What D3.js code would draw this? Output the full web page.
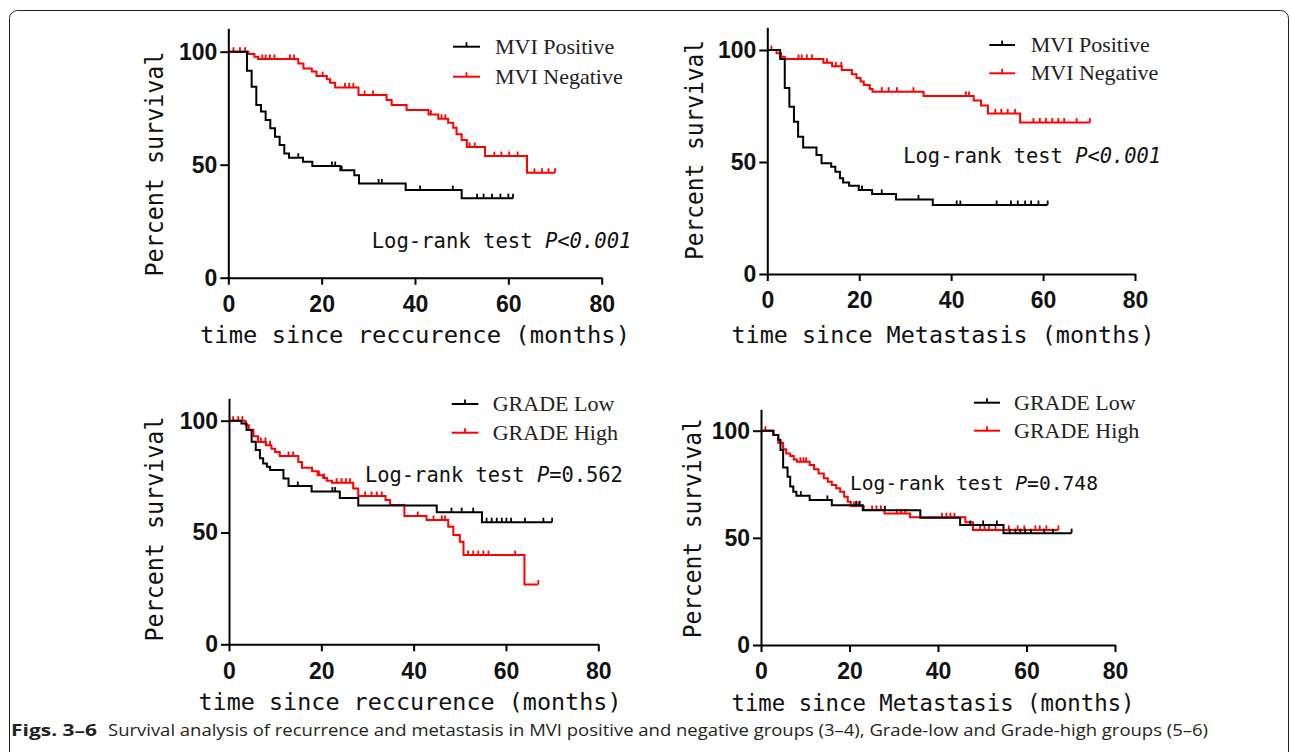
<!DOCTYPE html>
<html>
<head>
<meta charset="utf-8">
<script src="https://cdn.jsdelivr.net/npm/d3@7"></script>
<style>
  body { margin: 0; background: #fff; }
  svg { display: block; }
</style>
</head>
<body>
<svg id="fig" width="1290" height="752"></svg>
<script>
// ── Data ──────────────────────────────────────────────────────────────────

var xTicks = [0, 20, 40, 60, 80];
var yTicks = [0, 50, 100];

var mviLabels   = ['MVI Positive', 'MVI Negative'];
var gradeLabels = ['GRADE Low', 'GRADE High'];
var xTitleRec = 'time since reccurence (months)';
var xTitleMet = 'time since Metastasis (months)';
var yTitle = 'Percent survival';
var logRankText = 'Log-rank test ';
var pItalic = ['P<0.001', 'P<0.001', 'P', 'P'];
var pPlain  = ['', '', '=0.562', '=0.748'];

// Fig 3: recurrence, MVI positive / negative  [months, % survival]
var recPosSteps = [[0,100],[4,91.6],[5,84.5],[6,76.4],[7,73.5],[8,69.8],[9,66.1],[10,62.4],[11,58.7],[12,55],[13,53.1],[16,51.3],[18,49.4],[24,47.5],[27,45.3],[28,41.7],[38,38.8],[50,35.2],[61,35.2]];
var recPosCensor = [15, 22.2, 22.9, 24.3, 32.2, 32.9, 41.1, 48.1, 53.3, 54.7, 56.5, 58.3, 60, 61];
var recNegSteps = [[0,100],[4.3,99],[5.6,97.8],[6.4,96.8],[15,94.8],[16.1,92.6],[17.9,91.2],[18.9,89.2],[21.1,87.8],[21.8,86.3],[22.9,84.2],[27.9,80.8],[33.9,78.6],[35,76.4],[38.2,74.2],[42.9,72.2],[45,70.3],[47.1,68.6],[48.2,66.3],[48.9,63.5],[50,60.9],[51.1,57.8],[55,53.8],[64,46.4],[70,46.4]];
var recNegCensor = [1.1, 2.5, 3.6, 7.3, 8, 8.9, 9.9, 13.2, 14.1, 20.2, 25, 25.9, 26.8, 29.2, 31, 43.4, 45.7, 46.5, 51.7, 52.8, 57, 58.5, 60.2, 62, 65.6, 67.2, 68.6, 70];

// Fig 4: metastasis, MVI positive / negative
var metPosSteps = [[0,100],[2.8,96],[3.8,83],[4.8,74.7],[5.8,68],[6.7,61.3],[7.8,56.5],[10.7,53.1],[11.8,49.4],[13.9,47.9],[14.8,45.7],[15.8,42.7],[16.5,40.8],[17.8,39.4],[19.9,37.5],[22.8,35.7],[28,33.3],[36,30.8],[61,30.8]];
var metPosCensor = [20.6, 24.9, 32.9, 41.2, 42, 49.9, 53, 54.5, 56.1, 57.4, 59, 61];
var metNegSteps = [[0,100],[2,98.5],[3,97],[3.8,96],[12.2,94.3],[14.1,92.7],[16.2,91.1],[18.4,89.2],[19.4,87.5],[20.3,85.9],[21,84.4],[22.3,82.6],[22.9,81.4],[34,79.5],[44.9,77.5],[46.5,75.2],[48,71.7],[55,67.6],[70.2,67.6]];
var metNegCensor = [0.9, 6.8, 7.5, 8.6, 9.7, 13, 14.9, 16.1, 24.9, 26.4, 28.2, 31.8, 43.2, 43.9, 49.6, 50.9, 52.3, 53.9, 57.9, 59.3, 60.6, 62, 63.3, 64.6, 67.3, 70.2];

// Fig 5: recurrence, grade low / high
var recLowSteps = [[0,100],[2.7,98.8],[3.8,95.8],[4.9,90.6],[5.8,86.9],[6.7,83.2],[7.4,80.9],[8.2,79.4],[8.9,77.9],[11.8,74.2],[12.9,70.8],[17.9,68.3],[24,65.4],[28,62.1],[45,59.1],[54.8,54.6],[70,54.6]];
var recLowCensor = [14.9, 22.4, 23, 48.2, 50.4, 52.9, 55.8, 56.9, 58, 59.1, 60.1, 61.1, 64.1, 68.1, 70];
var recHighSteps = [[0,100],[3.6,98],[4.3,96],[5.3,93],[6.3,90.5],[8,89],[9.2,87.5],[10,86],[11,84.2],[15,81.5],[15.8,79],[18,77.4],[19.2,75.6],[20.4,74.4],[21.2,73.2],[22.3,72.3],[26.9,69.7],[28,66.3],[33.9,64.5],[34.9,62.3],[38,57.4],[42.8,55.6],[47.5,52.6],[48.6,48.9],[50,45.9],[50.8,39.9],[64,26.8],[67,26.8]];
var recHighCensor = [0.9, 2, 2.9, 6.9, 7.9, 8.9, 12.9, 13.9, 19.5, 20.6, 23.3, 24.4, 25.3, 26.2, 29.5, 30.9, 32, 33.1, 40.9, 44.3, 46.1, 46.8, 51.8, 52.9, 54, 55.1, 56.2, 62, 67];

// Fig 6: metastasis, grade low / high
var metLowSteps = [[0,100],[2.8,98],[3.9,95.8],[4.4,91],[5,82.8],[6,78.5],[6.6,74],[7.3,71.5],[8,69.7],[11,67.7],[16,65.2],[23,62.9],[36,59.4],[45,56],[54.8,52.2],[70.2,52.2]];
var metLowCensor = [9, 15, 21.5, 22.3, 28, 47.3, 50.2, 53.3, 56.2, 57.5, 58.6, 59.7, 61, 64, 66, 70.2];
var metHighSteps = [[0,100],[2.8,98],[3.9,94.4],[5,91.3],[5.7,89.4],[6.6,88.2],[7.4,86.6],[8.1,85.5],[11,84],[12,82],[13,80],[14.2,77.8],[15.1,76.2],[16,74.7],[17,73.1],[17.9,71.5],[18.8,69.2],[19.6,66.9],[20.3,64.9],[23.2,63],[27.9,61.4],[33.7,59.6],[46.2,57.3],[47.9,53.7],[67.2,53.7]];
var metHighCensor = [1, 8.9, 9.6, 10.2, 21, 22, 25.1, 26.1, 27.1, 30.7, 31.6, 32.6, 40.9, 41.9, 42.8, 43.7, 49.5, 50.5, 51.5, 53, 56, 58, 59.5, 62, 63, 64.5, 67.2];

var captionBold = 'Figs. 3\u20136';
var captionText = 'Survival analysis of recurrence and metastasis in MVI positive and negative groups (3\u20134), Grade-low and Grade-high groups (5\u20136)';

// ── Layout ────────────────────────────────────────────────────────────────

var MONO  = '"DejaVu Sans Mono", monospace';
var SANS  = '"Liberation Sans", Arial, sans-serif';
var SERIF = '"Liberation Serif", "Times New Roman", serif';

var panels = [
  { x0: 228.3, x80: 601.7, y0: 277.7, y100: 51.7, top: 28.3,
    series: [[recPosSteps, recPosCensor], [recNegSteps, recNegCensor]], labels: mviLabels,
    xTitle: xTitleRec, xTitleX: 415, xTitleY: 343, xTitleW: 430,
    yTitleX: 163, yTitleY: 164, yTitleW: 225,
    lrX: 371.7, lrY: 248.3, lrW: 260,
    legX1: 453, legX2: 480, legY: [46.7, 76.7], legTextX: 495 },
  { x0: 767.3, x80: 1135, y0: 274, y100: 50, top: 27.3,
    series: [[metPosSteps, metPosCensor], [metNegSteps, metNegCensor]], labels: mviLabels,
    xTitle: xTitleMet, xTitleX: 943, xTitleY: 343, xTitleW: 423,
    yTitleX: 703, yTitleY: 150, yTitleW: 220,
    lrX: 903.3, lrY: 162.7, lrW: 258,
    legX1: 989.3, legX2: 1015, legY: [45, 73.3], legTextX: 1030.7 },
  { x0: 229, x80: 598.3, y0: 644.3, y100: 420.7, top: 398.3,
    series: [[recLowSteps, recLowCensor], [recHighSteps, recHighCensor]], labels: gradeLabels,
    xTitle: xTitleRec, xTitleX: 410, xTitleY: 710, xTitleW: 423,
    yTitleX: 163, yTitleY: 529, yTitleW: 225,
    lrX: 365, lrY: 481.7, lrW: 258,
    legX1: 451.7, legX2: 478.3, legY: [404, 432.7], legTextX: 492.7 },
  { x0: 761, x80: 1115, y0: 645, y100: 430.7, top: 409.3,
    series: [[metLowSteps, metLowCensor], [metHighSteps, metHighCensor]], labels: gradeLabels,
    xTitle: xTitleMet, xTitleX: 933, xTitleY: 711, xTitleW: 403,
    yTitleX: 701, yTitleY: 528.3, yTitleW: 220,
    lrX: 850, lrY: 490, lrW: 248,
    legX1: 974, legX2: 1000, legY: [402.7, 430.7], legTextX: 1014 }
];

var colors = ['#000000', '#ff0000'];

// ── Helpers ───────────────────────────────────────────────────────────────

function survAt(steps, t) {
  var s = steps[0][1];
  steps.forEach(function(p) { if (p[0] <= t) s = p[1]; });
  return s;
}

// ── Drawing ───────────────────────────────────────────────────────────────

var svg = d3.select('#fig');

// frame
svg.append('rect')
  .attr('x', 9.5).attr('y', 10.5)
  .attr('width', 1279).attr('height', 800)
  .attr('rx', 8)
  .attr('fill', 'none')
  .attr('stroke', '#231f20')
  .attr('stroke-width', 1);

function drawPanel(p, idx) {
  var g = svg.append('g');

  var x = d3.scaleLinear().domain([0, 80]).range([p.x0, p.x80]);
  var y = d3.scaleLinear().domain([0, 100]).range([p.y0, p.y100]);
  var yAx = d3.scaleLinear().domain([0, y.invert(p.top)]).range([p.y0, p.top]);

  // axes
  var xAxis = g.append('g')
    .attr('transform', 'translate(0,' + p.y0 + ')')
    .call(d3.axisBottom(x).tickValues(xTicks).tickSizeInner(7).tickSizeOuter(0).tickPadding(11));
  var yAxis = g.append('g')
    .attr('transform', 'translate(' + p.x0 + ',0)')
    .call(d3.axisLeft(yAx).tickValues(yTicks).tickSizeInner(8).tickSizeOuter(0).tickPadding(3));

  [xAxis, yAxis].forEach(function(a) {
    a.select('.domain').attr('stroke', '#000').attr('stroke-width', 2);
    a.selectAll('.tick line').attr('stroke', '#000').attr('stroke-width', 2);
    a.selectAll('.tick text')
      .attr('font-family', SANS)
      .attr('font-size', 23)
      .attr('font-weight', 'bold')
      .attr('fill', '#111');
  });

  // curves: red drawn first so black sits on top
  var line = d3.line()
    .x(function(d) { return x(d[0]); })
    .y(function(d) { return y(d[1]); })
    .curve(d3.curveStepAfter);

  [1, 0].forEach(function(k) {
    var steps  = p.series[k][0];
    var censor = p.series[k][1];
    g.append('path')
      .datum(steps)
      .attr('d', line)
      .attr('fill', 'none')
      .attr('stroke', colors[k])
      .attr('stroke-width', 2);

    g.append('g')
      .selectAll('line')
      .data(censor)
      .join('line')
      .attr('x1', function(t) { return x(t); })
      .attr('x2', function(t) { return x(t); })
      .attr('y1', function(t) { return y(survAt(steps, t)); })
      .attr('y2', function(t) { return y(survAt(steps, t)) - 4.5; })
      .attr('stroke', colors[k])
      .attr('stroke-width', 1.8);
  });

  // legend
  p.labels.forEach(function(lab, k) {
    var ly = p.legY[k];
    g.append('line')
      .attr('x1', p.legX1).attr('x2', p.legX2)
      .attr('y1', ly).attr('y2', ly)
      .attr('stroke', colors[k]).attr('stroke-width', 2);
    g.append('line')
      .attr('x1', (p.legX1 + p.legX2) / 2).attr('x2', (p.legX1 + p.legX2) / 2)
      .attr('y1', ly).attr('y2', ly - 4.5)
      .attr('stroke', colors[k]).attr('stroke-width', 1.8);
    g.append('text')
      .attr('x', p.legTextX).attr('y', ly + 7)
      .attr('font-family', SERIF)
      .attr('font-size', 22)
      .attr('fill', '#222')
      .text(lab);
  });

  // axis titles
  g.append('text')
    .attr('x', p.xTitleX).attr('y', p.xTitleY)
    .attr('text-anchor', 'middle')
    .attr('font-family', MONO)
    .attr('font-size', 23.5)
    .attr('textLength', p.xTitleW)
    .attr('lengthAdjust', 'spacingAndGlyphs')
    .attr('fill', '#111')
    .text(p.xTitle);

  g.append('text')
    .attr('transform', 'translate(' + p.yTitleX + ',' + p.yTitleY + ') rotate(-90)')
    .attr('text-anchor', 'middle')
    .attr('font-family', MONO)
    .attr('font-size', 24)
    .attr('textLength', p.yTitleW)
    .attr('lengthAdjust', 'spacingAndGlyphs')
    .attr('fill', '#111')
    .text(yTitle);

  // log-rank annotation
  var fs = p.lrW / (21 * 0.602);
  var lr = g.append('text')
    .attr('x', p.lrX).attr('y', p.lrY)
    .attr('font-family', MONO)
    .attr('font-size', fs)
    .attr('fill', '#111')
    .attr('xml:space', 'preserve')
    .style('white-space', 'pre');
  lr.append('tspan').text(logRankText);
  lr.append('tspan').attr('font-style', 'italic').text(pItalic[idx]);
  if (pPlain[idx]) lr.append('tspan').text(pPlain[idx]);
}

panels.forEach(drawPanel);

// caption
var cap = svg.append('text')
  .attr('x', 11).attr('y', 736)
  .attr('font-family', '"Open Sans", "Noto Sans", sans-serif')
  .attr('font-size', 16)
  .attr('fill', '#231f20');
cap.append('tspan')
  .attr('font-weight', 'bold')
  .attr('textLength', 86)
  .attr('lengthAdjust', 'spacingAndGlyphs')
  .text(captionBold);
svg.append('text')
  .attr('x', 108).attr('y', 736)
  .attr('font-family', '"Open Sans", "Noto Sans", sans-serif')
  .attr('font-size', 16)
  .attr('fill', '#231f20')
  .attr('textLength', 1100)
  .attr('lengthAdjust', 'spacingAndGlyphs')
  .text(captionText);
</script>
</body>
</html>
